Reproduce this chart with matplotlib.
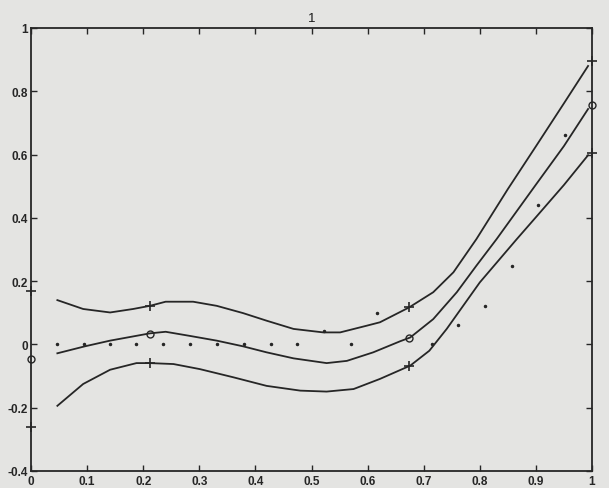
import matplotlib
matplotlib.use("Agg")
import matplotlib.pyplot as plt

# upper band curve
upper_x = [0.047, 0.093, 0.141, 0.182, 0.212, 0.240, 0.289, 0.331, 0.378, 0.420, 0.468,
           0.521, 0.551, 0.598, 0.622, 0.674, 0.717, 0.753, 0.794, 0.850, 0.900, 0.950, 0.993]
upper_y = [0.140, 0.112, 0.101, 0.112, 0.122, 0.135, 0.135, 0.122, 0.099, 0.075, 0.049,
           0.038, 0.038, 0.059, 0.070, 0.117, 0.165, 0.228, 0.333, 0.491, 0.626, 0.762, 0.880]

# middle curve
mid_x = [0.047, 0.096, 0.141, 0.212, 0.240, 0.283, 0.331, 0.378, 0.420, 0.468, 0.527,
         0.563, 0.610, 0.658, 0.676, 0.717, 0.759, 0.794, 0.830, 0.900, 0.950, 0.993]
mid_y = [-0.028, -0.006, 0.012, 0.035, 0.040, 0.027, 0.012, -0.006, -0.025, -0.044, -0.059,
         -0.052, -0.025, 0.010, 0.022, 0.080, 0.165, 0.249, 0.333, 0.505, 0.627, 0.744]

# lower band curve
lower_x = [0.047, 0.093, 0.141, 0.188, 0.212, 0.254, 0.301, 0.361, 0.420, 0.480, 0.527,
           0.575, 0.622, 0.676, 0.710, 0.741, 0.800, 0.866, 0.900, 0.950, 0.993]
lower_y = [-0.194, -0.125, -0.080, -0.059, -0.059, -0.062, -0.078, -0.104, -0.131, -0.146, -0.149,
           -0.141, -0.109, -0.067, -0.020, 0.049, 0.196, 0.333, 0.402, 0.504, 0.598]

# knot markers
knot_x = [0.0, 0.213, 0.674, 1.0]
knot_upper = [0.170, 0.122, 0.117, 0.897]
knot_mid = [-0.046, 0.033, 0.020, 0.757]
knot_lower = [-0.262, -0.059, -0.067, 0.605]

# data dots
dot_x = [0.047, 0.095, 0.141, 0.188, 0.236, 0.283, 0.332, 0.380, 0.427, 0.475, 0.522,
         0.570, 0.617, 0.714, 0.761, 0.809, 0.857, 0.904, 0.952]
dot_y = [0.0, 0.0, 0.0, 0.0, 0.0, 0.0, 0.0, 0.0, 0.0, 0.0, 0.043,
         0.0, 0.098, 0.0, 0.062, 0.120, 0.247, 0.441, 0.663]

x_ticks = [0, 0.1, 0.2, 0.3, 0.4, 0.5, 0.6, 0.7, 0.8, 0.9, 1]
x_labels = ["0", "0.1", "0.2", "0.3", "0.4", "0.5", "0.6", "0.7", "0.8", "0.9", "1"]
y_ticks = [-0.4, -0.2, 0, 0.2, 0.4, 0.6, 0.8, 1]
y_labels = ["-0.4", "-0.2", "0", "0.2", "0.4", "0.6", "0.8", "1"]

bg = "#e4e4e2"
ink = "#262626"

fig = plt.figure(figsize=(6.09, 4.89), dpi=100, facecolor=bg)
ax = fig.add_axes([31/609, 1-472/489, (592-31)/609, (472-29)/489])
ax.set_facecolor(bg)

ax.plot(upper_x, upper_y, color=ink, lw=1.3)
ax.plot(mid_x, mid_y, color=ink, lw=1.3)
ax.plot(lower_x, lower_y, color=ink, lw=1.3)
ax.plot(dot_x, dot_y, linestyle="none", marker=".", markersize=3, color=ink)
ax.plot(knot_x, knot_upper, linestyle="none", marker="+", markersize=7, mew=1.2, color=ink, clip_on=False)
ax.plot(knot_x, knot_lower, linestyle="none", marker="+", markersize=7, mew=1.2, color=ink, clip_on=False)
ax.plot(knot_x, knot_mid, linestyle="none", marker="o", markersize=5, mew=1.0,
        markerfacecolor="none", markeredgecolor=ink, clip_on=False)

ax.set_xlim(0, 1)
ax.set_ylim(-0.4, 1)
ax.set_xticks(x_ticks)
ax.set_xticklabels(x_labels)
ax.set_yticks(y_ticks)
ax.set_yticklabels(y_labels)
for lab in ax.get_xticklabels() + ax.get_yticklabels():
    lab.set_fontfamily("Liberation Sans")
    lab.set_fontweight("bold")
    lab.set_fontsize(8.5)
    lab.set_color("#1a1a1a")
ax.tick_params(direction="in", length=4, width=1.0, colors=ink, top=True, right=True)
ax.tick_params(axis="x", pad=3)
ax.tick_params(axis="y", pad=2)
for s in ax.spines.values():
    s.set_linewidth(1.3)
    s.set_color(ink)

ax.set_title("1", fontsize=9.5, fontfamily="Liberation Sans", color="#1a1a1a", pad=5)

fig.savefig("out.png", dpi=100, facecolor=bg)
